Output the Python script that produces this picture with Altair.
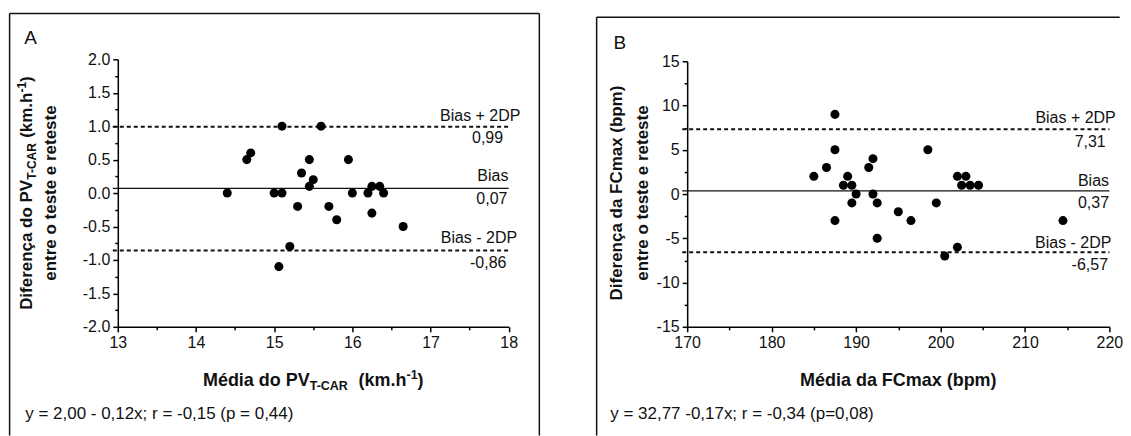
import altair as alt
import pandas as pd

FONT = "Liberation Sans"

# ---------------- data ----------------
# Panel A: PV T-CAR (km.h-1)
a_mean = [14.40, 14.65, 14.70, 15.00, 15.10, 15.10, 15.06, 15.20, 15.30, 15.35, 15.45, 15.45,
          15.50, 15.60, 15.70, 15.80, 15.95, 16.00, 16.20, 16.25, 16.25, 16.35, 16.40, 16.65]
a_diff = [0.0, 0.5, 0.6, 0.0, 0.0, 1.0, -1.1, -0.8, -0.2, 0.3, 0.5, 0.1,
          0.2, 1.0, -0.2, -0.4, 0.5, 0.0, 0.0, -0.3, 0.1, 0.1, 0.0, -0.5]
a_ref_values = [0.99, 0.07, -0.86]
a_ref_texts = ["0,99", "0,07", "-0,86"]
a_x_ticks = [13, 13.5, 14, 14.5, 15, 15.5, 16, 16.5, 17, 17.5, 18]
a_y_ticks = [-2, -1.75, -1.5, -1.25, -1, -0.75, -0.5, -0.25, 0, 0.25, 0.5, 0.75, 1, 1.25, 1.5, 1.75, 2]
a_equation = "y = 2,00 - 0,12x; r = -0,15 (p = 0,44)"

# Panel B: FCmax (bpm)
b_mean = [185.0, 186.5, 187.5, 187.5, 187.5, 188.5, 189.0, 189.5, 189.5, 190.0, 191.5, 192.0, 192.0, 192.5,
          192.5, 195.0, 196.5, 198.5, 199.5, 200.5, 202.0, 202.0, 203.0, 202.5, 203.5, 204.5, 214.5]
b_diff = [2, 3, 9, 5, -3, 1, 2, 1, -1, 0, 3, 4, 0, -1,
          -5, -2, -3, 5, -1, -7, -6, 2, 2, 1, 1, 1, -3]
b_ref_values = [7.31, 0.37, -6.57]
b_ref_texts = ["7,31", "0,37", "-6,57"]
b_x_ticks = [170, 175, 180, 185, 190, 195, 200, 205, 210, 215, 220]
b_y_ticks = [-15, -12.5, -10, -7.5, -5, -2.5, 0, 2.5, 5, 7.5, 10, 12.5, 15]
b_equation = "y = 32,77 -0,17x; r = -0,34 (p=0,08)"

ref_names = ["Bias + 2DP", "Bias", "Bias - 2DP"]
ref_kind = ["dash", "solid", "dash"]

# ---------------- helpers ----------------
BOLD_W = {"M": 833, "é": 556, "d": 611, "i": 278, "a": 556, " ": 278, "o": 611, "P": 667, "V": 667,
          "T": 611, "-": 333, "C": 722, "A": 722, "R": 722, "(": 333, "k": 556, "m": 889, ".": 278,
          "h": 611, "1": 556, ")": 333, "D": 722, "f": 333, "e": 556, "r": 389, "n": 611, "ç": 556}


def tw(s, size):
    return sum(BOLD_W[c] for c in s) * size / 1000.0


ONE = pd.DataFrame({"k": [0]})
INK = "#111111"


def txt(text, x, y, size, bold=False, align="left", angle=0):
    kw = dict(text=text, font=FONT, fontSize=size, align=align, baseline="alphabetic", color=INK)
    if bold:
        kw["fontWeight"] = "bold"
    if angle:
        kw["angle"] = angle
    return alt.Chart(ONE).mark_text(**kw).encode(x=alt.value(x), y=alt.value(y))


def compose(segs, x0, y0, rotated):
    out = []
    pos = 0.0
    for text, size, shift, gap in segs:
        pos += gap
        if rotated:
            out.append(txt(text, x0 + shift, y0 - pos, size, bold=True, angle=270))
        else:
            out.append(txt(text, x0 + pos, y0 + shift, size, bold=True))
        pos += tw(text, size)
    return out


def rule(x, x2, y, y2):
    return alt.Chart(ONE).mark_rule(color=INK, strokeWidth=1.5).encode(
        x=alt.value(x), x2=alt.value(x2), y=alt.value(y), y2=alt.value(y2))


def make_axis(values, major_test, label_expr):
    return alt.Axis(values=values, labelExpr=label_expr, title=None, grid=False,
                    tickSize={"condition": {"test": major_test, "value": 5}, "value": 3},
                    tickColor="black", tickWidth=1.5, domainColor="black", domainWidth=1.5,
                    labelFont=FONT, labelFontSize=16, labelColor=INK, labelPadding=3,
                    labelFlush=False, labelOverlap=False)


def panel(mean, diff, ref_values, ref_texts, W, H, xs, ys, xaxis, yaxis,
          above_off, below_off, frame, right_line, extras):
    pts = pd.DataFrame({"m": mean, "d": diff})
    refs = pd.DataFrame({"v": ref_values, "name": ref_names, "val": ref_texts,
                         "kind": ref_kind, "i": list(range(3))})
    Y = lambda f: alt.Y(f, scale=ys, axis=yaxis)
    layers = []
    fl, ft, fr, fb = frame
    layers.append(rule(fl, fl, ft, fb))
    layers.append(rule(fl, fr, ft, ft))
    if right_line:
        layers.append(rule(fr, fr, ft, fb))
    base = alt.Chart(refs)
    layers.append(base.transform_filter("datum.kind == 'dash'").mark_rule(
        color=INK, strokeWidth=2, strokeDash=[4, 3]).encode(
        y=Y("v:Q"), x=alt.value(-5), x2=alt.value(W)))
    layers.append(base.transform_filter("datum.kind == 'solid'").mark_rule(
        color=INK, strokeWidth=1.2).encode(
        y=Y("v:Q"), x=alt.value(-5), x2=alt.value(W)))
    layers.append(alt.Chart(pts).mark_circle(size=82, color="black", opacity=1).encode(
        x=alt.X("m:Q", scale=xs, axis=xaxis),
        y=Y("d:Q")))
    for i in range(3):
        dx_a, dy_a = above_off[i]
        dx_b, dy_b = below_off[i]
        layers.append(base.transform_filter(f"datum.i == {i}").mark_text(
            font=FONT, fontSize=16, align="right", baseline="alphabetic", dy=dy_a, color=INK).encode(
            y=Y("v:Q"), x=alt.value(W + dx_a), text="name:N"))
        layers.append(base.transform_filter(f"datum.i == {i}").mark_text(
            font=FONT, fontSize=16, align="right", baseline="alphabetic", dy=dy_b, color=INK).encode(
            y=Y("v:Q"), x=alt.value(W + dx_b), text="val:N"))
    layers += extras
    return alt.layer(*layers).properties(width=W, height=H)


H = 268
FB = 377  # bottom end of frame lines (relative to plot top) -> reaches the bottom edge

# ---------------- Panel A ----------------
WA = 391.6
xs_a = alt.Scale(domain=[13, 18], nice=False, zero=False)
ys_a = alt.Scale(domain=[-2, 2], nice=False, zero=False)
xa_axis = make_axis(a_x_ticks, "datum.value % 1 === 0",
                    "datum.value % 1 === 0 ? format(datum.value, 'd') : ''")
ya_major = "abs(datum.value * 2 - round(datum.value * 2)) < 0.001"
ya_axis = make_axis(a_y_ticks, ya_major,
                    f"{ya_major} ? (datum.value < 0 ? '-' : '') + format(abs(datum.value), '.1f') : ''")

a_extras = [txt("A", -93.7, -15.5, 19),
            txt(a_equation, -92.7, 360.5, 17)]
# x title with subscript / superscript
x0 = WA / 2 - (tw("Média do PV", 18) + tw("T-CAR", 12.5) + 10 + tw("(km.h", 18) + tw("-1", 12.5) + tw(")", 18)) / 2
a_extras += compose([("Média do PV", 18, 0, 0), ("T-CAR", 12.5, 4, 0), ("(km.h", 18, 0, 10),
                     ("-1", 12.5, -7, 0), (")", 18, 0, 0)], x0, 327.5, rotated=False)
# y title (two lines, rotated)
l1 = tw("Diferença do PV", 17) + tw("T-CAR", 12) + 4.7 + tw("(km.h", 17) + tw("-1", 12) + tw(")", 17)
a_extras += compose([("Diferença do PV", 17, 0, 0), ("T-CAR", 12, 4, 0), ("(km.h", 17, 0, 4.7),
                     ("-1", 12, -6.5, 0), (")", 17, 0, 0)], -85.7, H / 2 + l1 / 2, rotated=True)
a_extras.append(txt("entre o teste e reteste", -61.7, H / 2, 17, bold=True, align="center", angle=270))

panel_a = panel(a_mean, a_diff, a_ref_values, a_ref_texts, WA, H, xs_a, ys_a, xa_axis, ya_axis,
                above_off=[(11.7, -6), (-0.3, -7), (8.4, -7.5)],
                below_off=[(-5.6, 15.7), (-1.3, 15.6), (-2.3, 17.6)],
                frame=(-108.4, -45.8, 422.3, FB), right_line=True, extras=a_extras)

# ---------------- Panel B ----------------
WB = 423
xs_b = alt.Scale(domain=[170, 220], nice=False, zero=False)
ys_b = alt.Scale(domain=[-15, 15], range=[H, 2], nice=False, zero=False)
xb_axis = make_axis(b_x_ticks, "datum.value % 10 === 0",
                    "datum.value % 10 === 0 ? format(datum.value, 'd') : ''")
yb_axis = make_axis(b_y_ticks, "datum.value % 5 === 0",
                    "datum.value % 5 === 0 ? (datum.value < 0 ? '-' : '') + format(abs(datum.value), 'd') : ''")
b_extras = [txt("B", -73.7, -10.5, 19),
            txt(b_equation, -77.0, 360.5, 17),
            txt("Média da FCmax (bpm)", WB / 2, 327.5, 18, bold=True, align="center"),
            txt("Diferença da FCmax (bpm)", -65.7, H / 2, 17, bold=True, align="center", angle=270),
            txt("entre o teste e reteste", -39.7, H / 2, 17, bold=True, align="center", angle=270)]

panel_b = panel(b_mean, b_diff, b_ref_values, b_ref_texts, WB, H, xs_b, ys_b, xb_axis, yb_axis,
                above_off=[(6.3, -6), (-0.4, -4.5), (2.0, -4.5)],
                below_off=[(-3.7, 17.4), (-0.4, 17.4), (-1.4, 17.7)],
                frame=(-90.7, -42.0, 433.3, FB), right_line=False, extras=b_extras)

chart = alt.hconcat(panel_a, panel_b, spacing=178.4, bounds="flush").properties(
    padding={"left": 0, "top": 4, "right": 0, "bottom": 0}
).configure_view(stroke=None)

chart.save("out.html", embed_options={"renderer": "svg", "actions": False})
